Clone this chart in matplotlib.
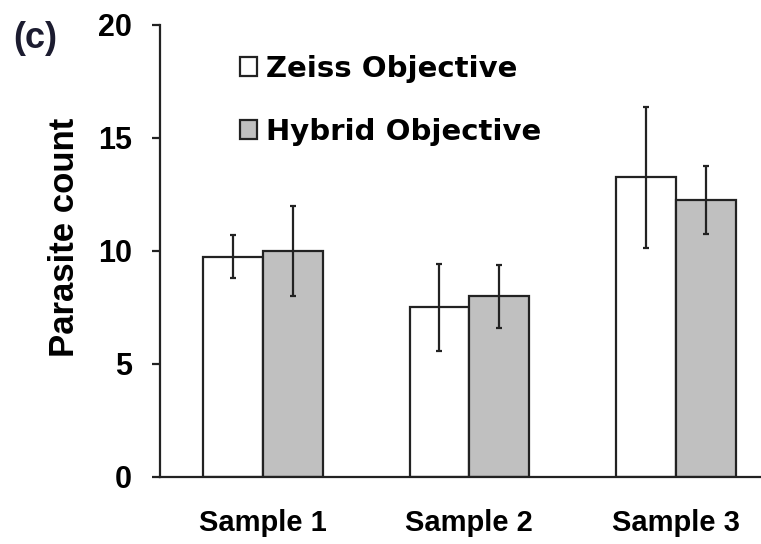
import numpy as np
import matplotlib
matplotlib.use('Agg')
import matplotlib.pyplot as plt

plt.rcParams['font.family'] = ['Liberation Sans', 'DejaVu Sans']
plt.rcParams['font.weight'] = 'bold'

samples = ['Sample 1', 'Sample 2', 'Sample 3']
zeiss = [9.75, 7.5, 13.25]
zeiss_err = [0.95, 1.92, 3.1]
hybrid = [10.0, 8.0, 12.25]
hybrid_err = [2.0, 1.4, 1.5]

x = np.arange(len(samples))
w = 0.29

fig = plt.figure(figsize=(7.61, 5.44), dpi=100)
ax = fig.add_axes([0.21, 0.1232, 0.80, 0.831])

ax.bar(x - w / 2, zeiss, w, color='white', edgecolor='#222222', linewidth=1.6,
       yerr=zeiss_err, error_kw=dict(ecolor='#222222', elinewidth=1.6, capsize=2, capthick=1.6),
       label='Zeiss Objective')
ax.bar(x + w / 2, hybrid, w, color='#c0c0c0', edgecolor='#222222', linewidth=1.6,
       yerr=hybrid_err, error_kw=dict(ecolor='#222222', elinewidth=1.6, capsize=2, capthick=1.6),
       label='Hybrid Objective')

ax.set_xlim(-0.5, 2.45)
ax.set_ylim(0, 20)
ax.set_yticks([0, 5, 10, 15, 20])
ax.set_xticks(x)
ax.set_xticklabels(samples, fontsize=21, fontweight='bold')
ax.tick_params(axis='x', length=0, pad=23)
ax.tick_params(axis='y', direction='out', length=6, width=1.6, labelsize=22, pad=14, color='#222222')
for t in ax.get_yticklabels():
    t.set_fontweight('bold')

for side in ['top', 'right']:
    ax.spines[side].set_visible(False)
for side in ['left', 'bottom']:
    ax.spines[side].set_linewidth(1.6)
    ax.spines[side].set_color('#222222')

ax.set_ylabel('Parasite count', fontsize=25, fontweight='bold')
ax.yaxis.set_label_coords(-0.13, 0.53)

leg = ax.legend(loc='upper left', bbox_to_anchor=(0.315, 0.899), bbox_transform=fig.transFigure,
                frameon=False, borderpad=0, borderaxespad=0,
                handlelength=0.6, handleheight=0.6, handletextpad=0.3, labelspacing=1.2,
                prop=dict(family='DejaVu Sans', weight='bold', size=21))

fig.text(0.017, 0.93, '(c)', fontsize=26, fontweight='bold', color='#1c1c30', va='center')

fig.savefig('out.png', dpi=100)
